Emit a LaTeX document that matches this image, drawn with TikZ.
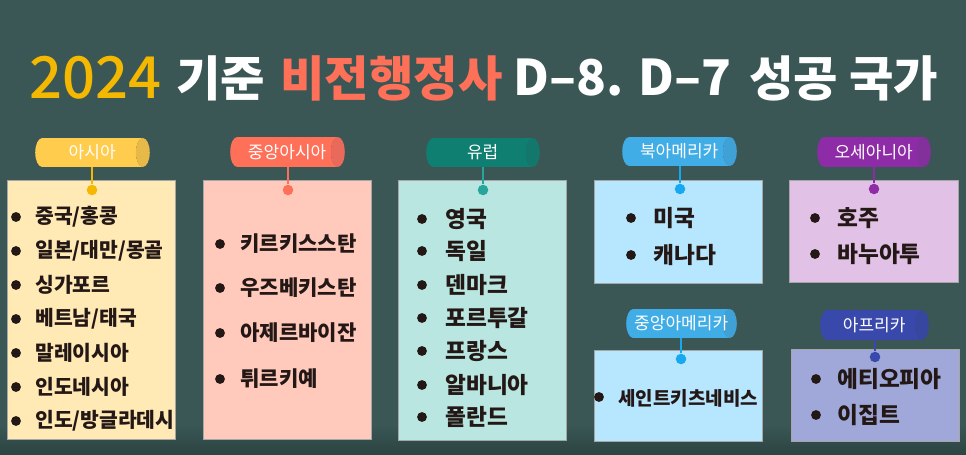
\documentclass[tikz,border=0pt]{standalone}
\usepackage{fontspec}
\usepackage{tikz}
\usetikzlibrary{shapes.geometric}
\setmainfont{Noto Sans CJK KR}
\newfontfamily\mediumfont{Noto Sans CJK KR Medium}
\newcommand{\tabtext}[1]{\makebox[0pt]{\hspace*{3.8pt}#1}}
\definecolor{boardbg}{HTML}{3A5755}
\definecolor{boardlow}{HTML}{2B4341}
\definecolor{inkdark}{HTML}{231815}
\definecolor{yellowtab}{HTML}{FFCC4D}
\definecolor{yellowcap}{HTML}{E6B948}
\definecolor{yellowdot}{HTML}{F5B800}
\definecolor{yellowcard}{HTML}{FFE9B5}
\definecolor{coraltab}{HTML}{FF7059}
\definecolor{coralcap}{HTML}{E96A5A}
\definecolor{coralcard}{HTML}{FFC9BC}
\definecolor{tealtab}{HTML}{0E7F71}
\definecolor{tealcap}{HTML}{13776B}
\definecolor{tealdot}{HTML}{26A69A}
\definecolor{tealcard}{HTML}{B9E6E0}
\definecolor{skytab}{HTML}{41ADE6}
\definecolor{skycap}{HTML}{3FA1D5}
\definecolor{skydot}{HTML}{18A8F0}
\definecolor{skycard}{HTML}{B7E6FF}
\definecolor{plumtab}{HTML}{8E2CA8}
\definecolor{plumcap}{HTML}{83309B}
\definecolor{plumcard}{HTML}{E2C1E6}
\definecolor{indigotab}{HTML}{3949AB}
\definecolor{indigocap}{HTML}{37479F}
\definecolor{indigocard}{HTML}{9FA8D8}
\tikzset{
  cardbox/.style={draw=gray!70,line width=0.3pt,anchor=north west,inner sep=0pt},
  tabbox/.style={cylinder,shape aspect=0.9,cylinder uses custom fill,text=white,
    font=\fontsize{9.7}{11}\selectfont,inner sep=0pt,anchor=shape center},
  pinline/.style={line width=1.1pt},
  pindot/.style={circle,inner sep=0pt,minimum size=6pt},
  itemdot/.style={circle,fill=inkdark,inner sep=0pt,minimum size=5.6pt},
  itemtext/.style={anchor=west,inner sep=0pt,text=inkdark,font=\fontsize{12}{14}\selectfont\bfseries},
  widetext/.style={itemtext,font=\fontsize{12.9}{15}\selectfont\bfseries},
  titletext/.style={anchor=west,inner sep=0pt,font=\fontsize{27.5}{32}\selectfont\bfseries}
}
\begin{document}
\begin{tikzpicture}[x=0.02cm,y=-0.02cm]
\useasboundingbox (0,0) rectangle (966,455);
\fill[boardbg] (0,0) rectangle (966,425);
\fill[top color=boardbg,bottom color=boardlow] (0,425) rectangle (966,455);

% title
\node[titletext,text=yellowdot,font=\fontsize{33}{36}\selectfont\mediumfont] (titleyear) at (29,78) {2024};
\node[titletext,text=white] (titlebase) at (176,78) {기준};
\node[titletext,text=coraltab] (titlevisa) at (280,78) {비전행정사};
\node[titletext,text=white,font=\fontsize{28}{32}\selectfont\bfseries] (titlecode) at (513,78) {D–8. D–7};
\node[titletext,text=white] (titlerest) at (749,78) {성공 국가};

% asia
\node[cardbox,fill=yellowcard,minimum width=169*0.5669pt,minimum height=260*0.5669pt] (cardA) at (7,180) {};
\node[tabbox,cylinder body fill=yellowtab,cylinder end fill=yellowcap,minimum width=29*0.5669pt,minimum height=115*0.5669pt] (tabA) at (92.5,152.5) {\tabtext{아시아}};
\node[pindot,fill=yellowdot] (pinA) at (92,190) {};
\draw[yellowdot,pinline] (pinA) -- (pinA |- tabA.south);
\foreach \i/\y/\t in {1/217/{중국/홍콩},2/251/{일본/대만/몽골},3/285/{싱가포르},4/319/{베트남/태국},5/353/{말레이시아},6/387/{인도네시아},7/421/{인도/방글라데시}}{
  \node[itemdot] (dotA\i) at (16,\y) {};
  \node[itemtext,font=\fontsize{11.6}{14}\selectfont\bfseries] (itemA\i) at (35,\y) {\t};
}

% central asia
\node[cardbox,fill=coralcard,minimum width=169*0.5669pt,minimum height=260*0.5669pt] (cardB) at (203,180) {};
\node[tabbox,cylinder body fill=coraltab,cylinder end fill=coralcap,minimum width=30*0.5669pt,minimum height=115*0.5669pt] (tabB) at (287.5,152) {\tabtext{중앙아시아}};
\node[pindot,fill=coraltab] (pinB) at (288,190) {};
\draw[coraltab,pinline] (pinB) -- (pinB |- tabB.south);
\foreach \i/\y/\t in {1/244/{키르키스스탄},2/288/{우즈베키스탄},3/333/{아제르바이잔},4/379/{튀르키예}}{
  \node[itemdot] (dotB\i) at (220,\y) {};
  \node[itemtext] (itemB\i) at (240,\y) {\t};
}

% europe
\node[cardbox,fill=tealcard,minimum width=169*0.5669pt,minimum height=261*0.5669pt] (cardC) at (398,180) {};
\node[tabbox,cylinder body fill=tealtab,cylinder end fill=tealcap,minimum width=29*0.5669pt,minimum height=114*0.5669pt] (tabC) at (483,152.5) {\tabtext{유럽}};
\node[pindot,fill=tealdot] (pinC) at (483,190) {};
\draw[tealdot,pinline] (pinC) -- (pinC |- tabC.south);
\foreach \i/\y/\t in {1/219/{영국},2/251/{독일},3/285/{덴마크},4/318/{포르투갈},5/351/{프랑스},6/385/{알바니아},7/417/{폴란드}}{
  \node[itemdot] (dotC\i) at (422,\y) {};
  \node[widetext] (itemC\i) at (445,\y) {\t};
}

% north america
\node[cardbox,fill=skycard,minimum width=169*0.5669pt,minimum height=103*0.5669pt] (cardD) at (594,180) {};
\node[tabbox,cylinder body fill=skytab,cylinder end fill=skycap,minimum width=29*0.5669pt,minimum height=115*0.5669pt] (tabD) at (679.5,151.5) {\tabtext{북아메리카}};
\node[pindot,fill=skydot] (pinD) at (680,189) {};
\draw[skydot,pinline] (pinD) -- (pinD |- tabD.south);
\foreach \i/\y/\t in {1/218/{미국},2/255/{캐나다}}{
  \node[itemdot] (dotD\i) at (631,\y) {};
  \node[widetext] (itemD\i) at (653,\y) {\t};
}

% oceania
\node[cardbox,fill=plumcard,minimum width=170*0.5669pt,minimum height=102*0.5669pt] (cardE) at (789,180) {};
\node[tabbox,cylinder body fill=plumtab,cylinder end fill=plumcap,minimum width=30*0.5669pt,minimum height=114*0.5669pt] (tabE) at (874,152) {\tabtext{오세아니아}};
\node[pindot,fill=plumtab] (pinE) at (874,189) {};
\draw[plumtab,pinline] (pinE) -- (pinE |- tabE.south);
\foreach \i/\y/\t in {1/218/{호주},2/254/{바누아투}}{
  \node[itemdot] (dotE\i) at (815,\y) {};
  \node[widetext] (itemE\i) at (837,\y) {\t};
}

% central america
\node[cardbox,fill=skycard,minimum width=169*0.5669pt,minimum height=91*0.5669pt] (cardF) at (594,350) {};
\node[tabbox,cylinder body fill=skytab,cylinder end fill=skycap,minimum width=29*0.5669pt,minimum height=111*0.5669pt] (tabF) at (681.5,323.5) {\tabtext{중앙아메리카}};
\node[pindot,fill=skydot] (pinF) at (681,359) {};
\draw[skydot,pinline] (pinF) -- (pinF |- tabF.south);
\node[itemdot] (dotF1) at (599,397) {};
\node[itemtext,font=\fontsize{10.8}{13}\selectfont\bfseries] (itemF1) at (618,398) {세인트키츠네비스};

% africa
\node[cardbox,fill=indigocard,minimum width=169*0.5669pt,minimum height=92*0.5669pt] (cardG) at (791,349) {};
\node[tabbox,cylinder body fill=indigotab,cylinder end fill=indigocap,minimum width=30*0.5669pt,minimum height=109*0.5669pt] (tabG) at (874.5,325) {\tabtext{아프리카}};
\node[pindot,fill=indigotab] (pinG) at (875,357) {};
\draw[indigotab,pinline] (pinG) -- (pinG |- tabG.south);
\foreach \i/\y/\t in {1/379/{에티오피아},2/415/{이집트}}{
  \node[itemdot] (dotG\i) at (816,\y) {};
  \node[widetext] (itemG\i) at (837,\y) {\t};
}
\end{tikzpicture}
\end{document}
